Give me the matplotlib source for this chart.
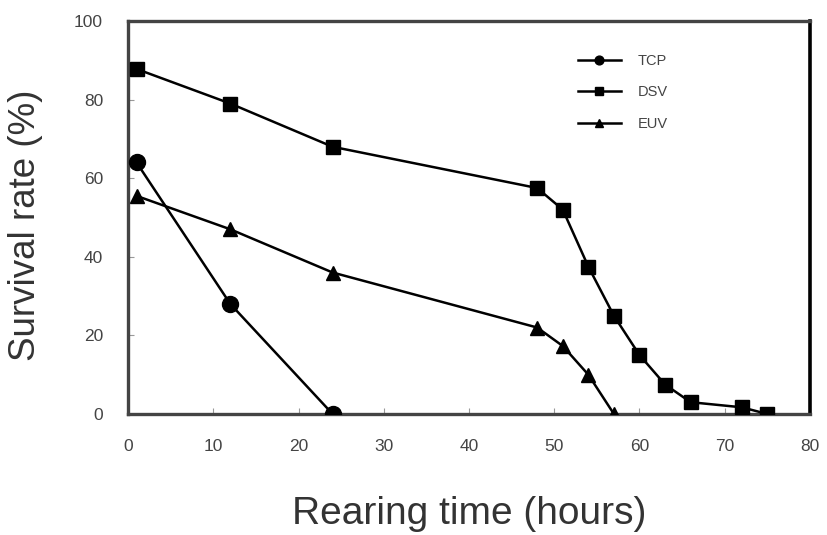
import matplotlib
matplotlib.use('Agg')
import matplotlib.pyplot as plt

plt.rcParams['font.family'] = ['Liberation Sans', 'DejaVu Sans']

# survival data
tcp_x = [1, 12, 24]
tcp_y = [64, 28, 0]

dsv_x = [1, 12, 24, 48, 51, 54, 57, 60, 63, 66, 72, 75]
dsv_y = [87.8, 79, 68, 57.5, 52, 37.5, 25, 15, 7.5, 3, 1.7, 0]

euv_x = [1, 12, 24, 48, 51, 54, 57]
euv_y = [55.5, 47, 36, 22, 17.3, 10, 0]

fig = plt.figure(figsize=(8.27, 5.35), dpi=100, facecolor='white')
ax = fig.add_axes([0.1548, 0.2262, 0.8246, 0.7345])

ax.plot(tcp_x, tcp_y, '-o', color='black', lw=1.8, ms=11.5, label='TCP', zorder=3)
ax.plot(dsv_x, dsv_y, '-s', color='black', lw=1.8, ms=10, label='DSV', zorder=3)
ax.plot(euv_x, euv_y, '-^', color='black', lw=1.8, ms=10.5, label='EUV', zorder=3)

ax.set_xlim(0, 80)
ax.set_ylim(0, 100)
ax.set_xticks(range(0, 81, 10))
ax.set_yticks(range(0, 101, 20))
ax.tick_params(direction='in', length=4, width=0.8, color='#999999',
               labelsize=12.5, labelcolor='#444444', pad=18)

for side in ['left', 'bottom', 'top']:
    ax.spines[side].set_linewidth(2.4)
    ax.spines[side].set_color('#444444')
ax.spines['right'].set_linewidth(2.6)
ax.spines['right'].set_color('black')

ax.set_xlabel('Rearing time (hours)', fontsize=28, color='#333333', labelpad=30)
ax.set_ylabel('Survival rate (%)', fontsize=26.5, color='#333333')
ax.yaxis.set_label_coords(-0.125, 0.48)

leg = ax.legend(loc='upper left', bbox_to_anchor=(0.64, 0.95), frameon=False,
                fontsize=10.5, markerscale=0.55, handlelength=3.0,
                handletextpad=1.1, labelspacing=1.2)
for t in leg.get_texts():
    t.set_color('#444444')

fig.savefig('out.png', dpi=100)
